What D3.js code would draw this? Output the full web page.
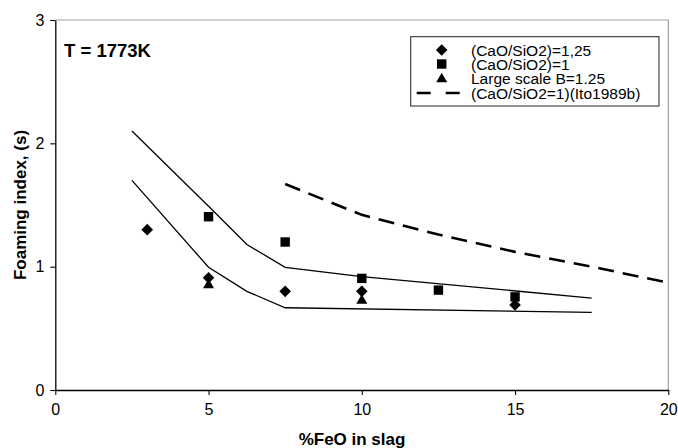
<!DOCTYPE html>
<html>
<head>
<meta charset="utf-8">
<script src="https://cdn.jsdelivr.net/npm/d3@7/dist/d3.min.js"></script>
<style>
  html, body { margin: 0; padding: 0; background: #fff; }
  svg { display: block; font-family: "Liberation Sans", Arial, sans-serif; }
</style>
</head>
<body>
<svg id="chart" width="678" height="448"></svg>
<script>
// ---- data ----
const xTicks = [0, 5, 10, 15, 20];
const yTicks = [0, 1, 2, 3];

const diamondX = [3, 5, 7.5, 10, 15];
const diamondY = [1.30, 0.91, 0.80, 0.80, 0.69];

const squareX = [5, 7.5, 10, 12.5, 15];
const squareY = [1.405, 1.20, 0.905, 0.81, 0.755];

const triangleX = [5, 10];
const triangleY = [0.86, 0.735];

const upperX = [2.5, 5, 6.25, 7.5, 10, 17.5];
const upperY = [2.10, 1.49, 1.18, 0.995, 0.92, 0.745];

const lowerX = [2.5, 5, 6.25, 7.5, 17.5];
const lowerY = [1.70, 0.995, 0.80, 0.667, 0.63];

const itoX = [7.5, 10, 12.5, 15, 17.5, 20];
const itoY = [1.67, 1.42, 1.26, 1.12, 1.00, 0.87];

const legendLabels = ["(CaO/SiO2)=1,25", "(CaO/SiO2)=1", "Large scale B=1.25", "(CaO/SiO2=1)(Ito1989b)"];

// ---- layout ----
const svg = d3.select("#chart");
const L = 55.3, R = 668.3, T = 20, B = 390;
const x = d3.scaleLinear().domain([0, 20]).range([L, R]);
const y = d3.scaleLinear().domain([0, 3]).range([B, T]);

// frame (top/right grey)
svg.append("path")
  .attr("d", `M${L},${T}H${R}V${B}`)
  .attr("fill", "none").attr("stroke", "#a0a0a0").attr("stroke-width", 1.2);

// axes
const xAxis = svg.append("g").attr("transform", `translate(0,${B})`)
  .call(d3.axisBottom(x).tickValues(xTicks).tickFormat(d3.format("d"))
    .tickSize(5).tickSizeOuter(0).tickPadding(9));
const yAxis = svg.append("g").attr("transform", `translate(${L},0)`)
  .call(d3.axisLeft(y).tickValues(yTicks).tickFormat(d3.format("d"))
    .tickSize(5).tickSizeOuter(0).tickPadding(6));
[xAxis, yAxis].forEach(g => {
  g.select(".domain").attr("stroke", "#000").attr("stroke-width", 1.3);
  g.selectAll(".tick line").attr("stroke", "#000").attr("stroke-width", 1.1);
  g.selectAll(".tick text").attr("fill", "#000").style("font-size", "16px")
    .style("font-family", "'Liberation Sans', Arial, sans-serif");
});

// lines
const line = d3.line().x(d => x(d[0])).y(d => y(d[1]));
const zip = (a, b) => a.map((v, i) => [v, b[i]]);

svg.append("path").datum(zip(upperX, upperY)).attr("d", line)
  .attr("fill", "none").attr("stroke", "#000").attr("stroke-width", 1.3);
svg.append("path").datum(zip(lowerX, lowerY)).attr("d", line)
  .attr("fill", "none").attr("stroke", "#000").attr("stroke-width", 1.3);
svg.append("path").datum(zip(itoX, itoY)).attr("d", line)
  .attr("fill", "none").attr("stroke", "#000").attr("stroke-width", 2.6)
  .attr("stroke-dasharray", "16,9");

// markers
const diamondPath = "M0,-5.8L5.8,0L0,5.8L-5.8,0Z";
const trianglePath = "M0,-5.2L5.5,4.3L-5.5,4.3Z";
const squarePath = "M-4.7,-4.7H4.7V4.7H-4.7Z";

svg.append("g").selectAll("path").data(zip(squareX, squareY)).join("path")
  .attr("transform", d => `translate(${x(d[0])},${y(d[1])})`)
  .attr("d", squarePath).attr("fill", "#000");
svg.append("g").selectAll("path").data(zip(triangleX, triangleY)).join("path")
  .attr("transform", d => `translate(${x(d[0])},${y(d[1])})`)
  .attr("d", trianglePath).attr("fill", "#000");
svg.append("g").selectAll("path").data(zip(diamondX, diamondY)).join("path")
  .attr("transform", d => `translate(${x(d[0])},${y(d[1])})`)
  .attr("d", diamondPath).attr("fill", "#000");

// T label
svg.append("text").attr("x", 64).attr("y", 56.5)
  .style("font-size", "18.5px").style("font-weight", "bold").text("T = 1773K");

// axis titles
svg.append("text").attr("x", 352).attr("y", 445)
  .attr("text-anchor", "middle").style("font-size", "17px").style("font-weight", "bold")
  .text("%FeO in slag");
svg.append("text").attr("transform", "translate(26,205) rotate(-90)")
  .attr("text-anchor", "middle").style("font-size", "17px").style("font-weight", "bold")
  .text("Foaming index, (s)");

// legend
const lg = svg.append("g");
lg.append("rect").attr("x", 410.7).attr("y", 36.7).attr("width", 248.3).attr("height", 69.3)
  .attr("fill", "#fff").attr("stroke", "#333").attr("stroke-width", 1.1);
const rowY = [50, 64, 78, 93];
const mx = 441.7;
lg.append("path").attr("transform", `translate(${mx},${rowY[0]})`).attr("d", diamondPath).attr("fill", "#000");
lg.append("path").attr("transform", `translate(${mx},${rowY[1]})`).attr("d", squarePath).attr("fill", "#000");
lg.append("path").attr("transform", `translate(${mx},${rowY[2]})`).attr("d", trianglePath).attr("fill", "#000");
lg.append("line").attr("x1", 416.7).attr("x2", 460).attr("y1", rowY[3]).attr("y2", rowY[3])
  .attr("stroke", "#000").attr("stroke-width", 2.6).attr("stroke-dasharray", "14,15");
lg.selectAll("text.lab").data(legendLabels).join("text").attr("class", "lab")
  .attr("x", 471).attr("y", (d, i) => rowY[i] + 5.5)
  .style("font-size", "15.5px").text(d => d);
</script>
</body>
</html>
